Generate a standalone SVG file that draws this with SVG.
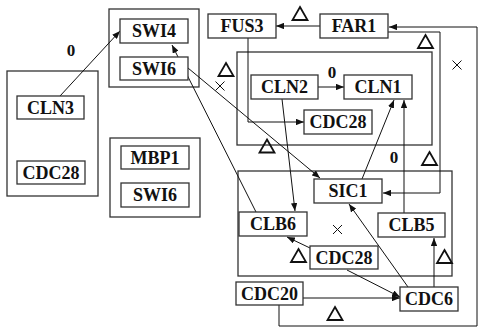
<svg xmlns="http://www.w3.org/2000/svg" width="479" height="327" viewBox="0 0 479 327">
<style>
.box{fill:#fff;stroke:#333;stroke-width:1.3}
.cont{fill:none;stroke:#333;stroke-width:1.3}
.e{fill:none;stroke:#111;stroke-width:1}
.tri{fill:none;stroke:#111;stroke-width:1.8;stroke-linejoin:miter}
.x{stroke:#111;stroke-width:1}
</style>
<defs>
<marker id="a" viewBox="0 0 10 8" refX="10" refY="4" markerWidth="8" markerHeight="6.4" orient="auto" markerUnits="userSpaceOnUse">
<path d="M0,0 L10,4 L0,8 Z" fill="#111"/>
</marker>
<path id="tr" d="M0,-6.5 L7.5,6.5 L-7.5,6.5 Z"/>
<path id="xx" d="M-4.5,-4.5 L4.5,4.5 M-4.5,4.5 L4.5,-4.5"/>
</defs>
<rect width="479" height="327" fill="#fff"/>
<g id="containers">
<rect class="cont" x="7" y="71" width="91" height="125"/>
<rect class="cont" x="109" y="9" width="90" height="78"/>
<rect class="cont" x="110" y="138" width="90" height="79"/>
<rect class="cont" x="237" y="52" width="195" height="93"/>
<rect class="cont" x="238" y="171" width="214" height="105"/>
</g>
<g id="connectors">
<line class="e" x1="60" y1="96" x2="120" y2="31" marker-end="url(#a)"/>
<line class="e" x1="320" y1="26" x2="276" y2="26" marker-end="url(#a)"/>
<polyline class="e" points="248,38 248,122 304,122" marker-end="url(#a)"/>
<line class="e" x1="318" y1="87" x2="344" y2="87" marker-end="url(#a)"/>
<polyline class="e" points="279,305 279,326 477,326 477,27 389,27" marker-end="url(#a)"/>
<polyline class="e" points="388,32 440,32 440,193 383,193" marker-end="url(#a)"/>
<line class="e" x1="188" y1="68" x2="320" y2="178" marker-end="url(#a)"/>
<line class="e" x1="282" y1="99" x2="295" y2="211" marker-end="url(#a)"/>
<line class="e" x1="256" y1="212" x2="172" y2="45" marker-end="url(#a)"/>
<line class="e" x1="362" y1="179" x2="394" y2="100" marker-end="url(#a)"/>
<line class="e" x1="404" y1="213" x2="404" y2="100" marker-end="url(#a)"/>
<line class="e" x1="310" y1="248" x2="287" y2="237" marker-end="url(#a)"/>
<line class="e" x1="347" y1="270" x2="400" y2="297" marker-end="url(#a)"/>
<line class="e" x1="303" y1="298" x2="400" y2="298" marker-end="url(#a)"/>
<line class="e" x1="408" y1="287" x2="349" y2="204" marker-end="url(#a)"/>
<line class="e" x1="434" y1="287" x2="434" y2="238" marker-end="url(#a)"/>
</g>
<g id="marks">
<use href="#tr" class="tri" x="300" y="13.5"/>
<use href="#tr" class="tri" x="425.5" y="41.5"/>
<use href="#tr" class="tri" x="226" y="69.5"/>
<use href="#tr" class="tri" x="267" y="146"/>
<use href="#tr" class="tri" x="429.5" y="158.5"/>
<use href="#tr" class="tri" x="298.5" y="255.5"/>
<use href="#tr" class="tri" x="444.5" y="256.5"/>
<use href="#tr" class="tri" x="335" y="313.5"/>
<use href="#xx" class="x" x="220" y="86"/>
<use href="#xx" class="x" x="457" y="65"/>
<use href="#xx" class="x" x="337.5" y="229.5"/>
</g>
<g font-family="Liberation Serif, Times New Roman, DejaVu Serif, serif" font-weight="bold" font-size="17" text-anchor="middle" fill="#111">
<text x="71" y="56">0</text>
<text x="332" y="78">0</text>
<text x="394" y="163">0</text>
</g>
<g font-family="Liberation Serif, Times New Roman, DejaVu Serif, serif" font-weight="bold" font-size="18" text-anchor="middle" fill="#111">
<g id="CLN3"><rect class="box" x="17" y="96" width="67" height="23"/><text x="50.5" y="114">CLN3</text></g>
<g id="CDC28a"><rect class="box" x="17" y="161" width="68" height="23"/><text x="51" y="179">CDC28</text></g>
<g id="SWI4"><rect class="box" x="120" y="19" width="68" height="24"/><text x="154" y="37">SWI4</text></g>
<g id="SWI6a"><rect class="box" x="120" y="57" width="68" height="23"/><text x="154" y="75">SWI6</text></g>
<g id="MBP1"><rect class="box" x="121" y="146" width="68" height="23"/><text x="155" y="164">MBP1</text></g>
<g id="SWI6b"><rect class="box" x="121" y="183" width="68" height="24"/><text x="155" y="201">SWI6</text></g>
<g id="FUS3"><rect class="box" x="208" y="14" width="68" height="24"/><text x="242" y="32">FUS3</text></g>
<g id="FAR1"><rect class="box" x="320" y="14" width="68" height="24"/><text x="354" y="32">FAR1</text></g>
<g id="CLN2"><rect class="box" x="251" y="75" width="67" height="24"/><text x="284.5" y="93">CLN2</text></g>
<g id="CLN1"><rect class="box" x="344" y="75" width="68" height="24"/><text x="378" y="93">CLN1</text></g>
<g id="CDC28b"><rect class="box" x="304" y="110" width="68" height="24"/><text x="338" y="128">CDC28</text></g>
<g id="SIC1"><rect class="box" x="314" y="179" width="68" height="24"/><text x="348" y="197">SIC1</text></g>
<g id="CLB6"><rect class="box" x="239" y="212" width="68" height="24"/><text x="273" y="230">CLB6</text></g>
<g id="CLB5"><rect class="box" x="378" y="213" width="67" height="24"/><text x="411.5" y="231">CLB5</text></g>
<g id="CDC28c"><rect class="box" x="310" y="246" width="68" height="23"/><text x="344" y="264">CDC28</text></g>
<g id="CDC20"><rect class="box" x="236" y="282" width="67" height="23"/><text x="269.5" y="300">CDC20</text></g>
<g id="CDC6"><rect class="box" x="400" y="287" width="58" height="24"/><text x="429" y="305">CDC6</text></g>
</g>
</svg>
